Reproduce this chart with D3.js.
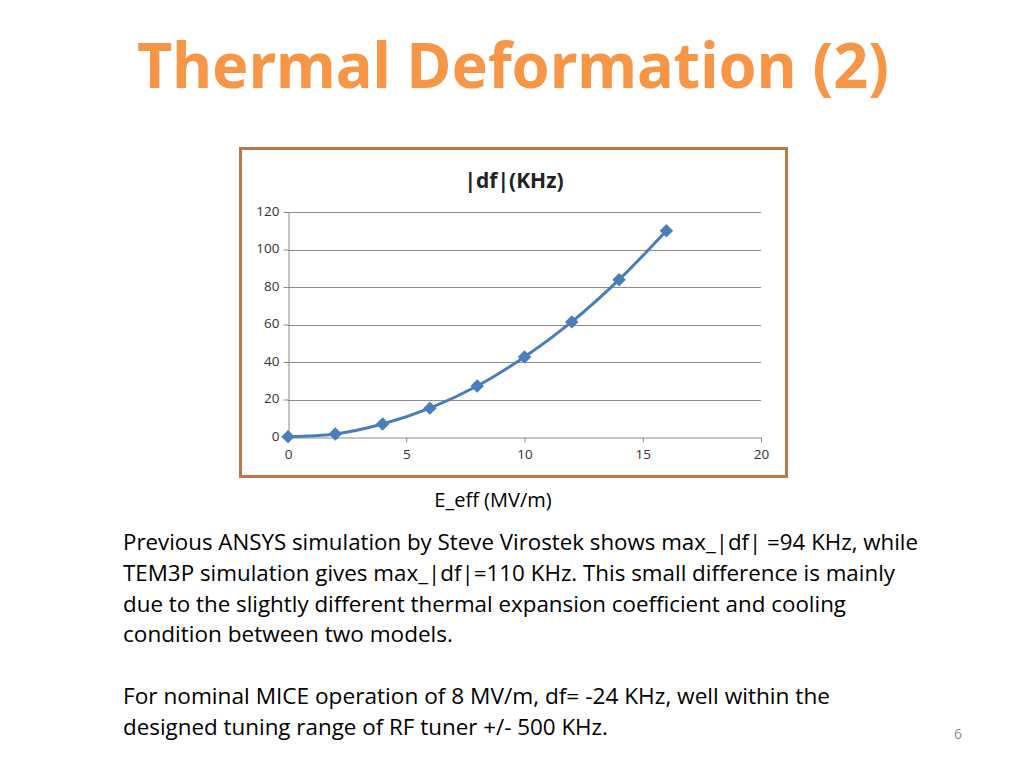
<!DOCTYPE html>
<html>
<head>
<meta charset="utf-8">
<script src="https://cdn.jsdelivr.net/npm/d3@7"></script>
<style>
  body { margin: 0; background: #fff; }
  text { font-family: "Open Sans", "Noto Sans", sans-serif; }
</style>
</head>
<body>
<div id="chart"></div>
<script>
const efield = [0, 2, 4, 6, 8, 10, 12, 14, 16]
const dfKHz = [0.2, 1.6, 6.9, 15.4, 27.2, 42.7, 61.4, 83.9, 110]
const xTicks = [0, 5, 10, 15, 20]
const yTicks = [0, 20, 40, 60, 80, 100, 120]
const paragraphs = [
  ["Previous ANSYS simulation by Steve Virostek shows max_|df| =94 KHz, while",
   "TEM3P simulation gives max_|df|=110 KHz. This small difference is mainly",
   "due to the slightly different thermal expansion coefficient and cooling",
   "condition between two models."],
  ["For nominal MICE operation of 8 MV/m, df= -24 KHz, well within the",
   "designed tuning range of RF tuner +/- 500 KHz."]
]

const width = 1024, height = 768
const svg = d3.select("#chart").append("svg")
    .attr("width", width).attr("height", height)

// slide title
svg.append("text")
    .attr("x", 513).attr("y", 88)
    .attr("text-anchor", "middle")
    .attr("fill", "#f79646")
    .attr("font-size", 62)
    .attr("font-weight", "bold")
    .attr("textLength", 752)
    .attr("lengthAdjust", "spacingAndGlyphs")
    .style("font-family", "'Noto Sans', sans-serif")
    .text("Thermal Deformation (2)")

// chart frame
svg.append("rect")
    .attr("x", 240.5).attr("y", 148.5)
    .attr("width", 546).attr("height", 328)
    .attr("fill", "#fff")
    .attr("stroke", "#b8794b")
    .attr("stroke-width", 3)

svg.append("text")
    .attr("x", 514).attr("y", 188)
    .attr("text-anchor", "middle")
    .attr("font-size", 21)
    .attr("font-weight", "bold")
    .attr("fill", "#222")
    .text("|df|(KHz)")

const x = d3.scaleLinear().domain([0, 20]).range([288, 761])
const y = d3.scaleLinear().domain([0, 120]).range([437, 212])

// gridlines
svg.append("g")
    .attr("stroke", "#8c8c8c")
    .attr("stroke-width", 1)
  .selectAll("line")
  .data(yTicks.slice(1))
  .enter().append("line")
    .attr("x1", x(0)).attr("x2", x(20))
    .attr("y1", d => Math.round(y(d)) + 0.5)
    .attr("y2", d => Math.round(y(d)) + 0.5)

const xAxis = svg.append("g")
    .attr("transform", "translate(0," + (Math.round(y(0)) + 0.5) + ")")
    .call(d3.axisBottom(x).tickValues(xTicks).tickSize(5).tickSizeOuter(0))
const yAxis = svg.append("g")
    .attr("transform", "translate(" + (Math.round(x(0)) + 0.5) + ",0)")
    .call(d3.axisLeft(y).tickValues(yTicks).tickSize(5).tickSizeOuter(0))

for (const ax of [xAxis, yAxis]) {
  ax.select(".domain").attr("stroke", "#8c8c8c")
  ax.selectAll(".tick line").attr("stroke", "#8c8c8c")
  ax.selectAll(".tick text")
      .attr("fill", "#333")
      .attr("font-size", 13.5)
      .style("font-family", "'Open Sans', sans-serif")
}
xAxis.selectAll(".tick text").attr("dy", "1em").attr("y", 8)
yAxis.selectAll(".tick text").attr("x", -9).attr("dy", "0.25em")

const pts = efield.map((e, i) => [e, dfKHz[i]])

svg.append("path")
    .datum(pts)
    .attr("fill", "none")
    .attr("stroke", "#4a7ebb")
    .attr("stroke-width", 3)
    .attr("d", d3.line()
        .x(d => x(d[0]))
        .y(d => y(d[1]))
        .curve(d3.curveCatmullRom))

svg.append("g")
    .attr("fill", "#4a7ebb")
  .selectAll("path")
  .data(pts)
  .enter().append("path")
    .attr("transform", d => "translate(" + x(d[0]) + "," + y(d[1]) + ")")
    .attr("d", d3.symbol(d3.symbolDiamond2, 115))

svg.append("text")
    .attr("x", 493).attr("y", 507)
    .attr("text-anchor", "middle")
    .attr("font-size", 20)
    .attr("fill", "#000")
    .text("E_eff (MV/m)")

// body text
const lines = [
  { t: paragraphs[0][0], y: 550, w: 795 },
  { t: paragraphs[0][1], y: 581, w: 772 },
  { t: paragraphs[0][2], y: 612, w: 723 },
  { t: paragraphs[0][3], y: 642, w: 330 },
  { t: paragraphs[1][0], y: 704, w: 707 },
  { t: paragraphs[1][1], y: 735, w: 485 }
]
svg.append("g")
  .selectAll("text")
  .data(lines)
  .enter().append("text")
    .attr("x", 123)
    .attr("y", d => d.y)
    .attr("font-size", 21)
    .attr("fill", "#000")
    .attr("textLength", d => d.w)
    .attr("lengthAdjust", "spacingAndGlyphs")
    .text(d => d.t)

svg.append("text")
    .attr("x", 958).attr("y", 739)
    .attr("text-anchor", "middle")
    .attr("font-size", 14)
    .attr("fill", "#8c8c8c")
    .text("6")
</script>
</body>
</html>
